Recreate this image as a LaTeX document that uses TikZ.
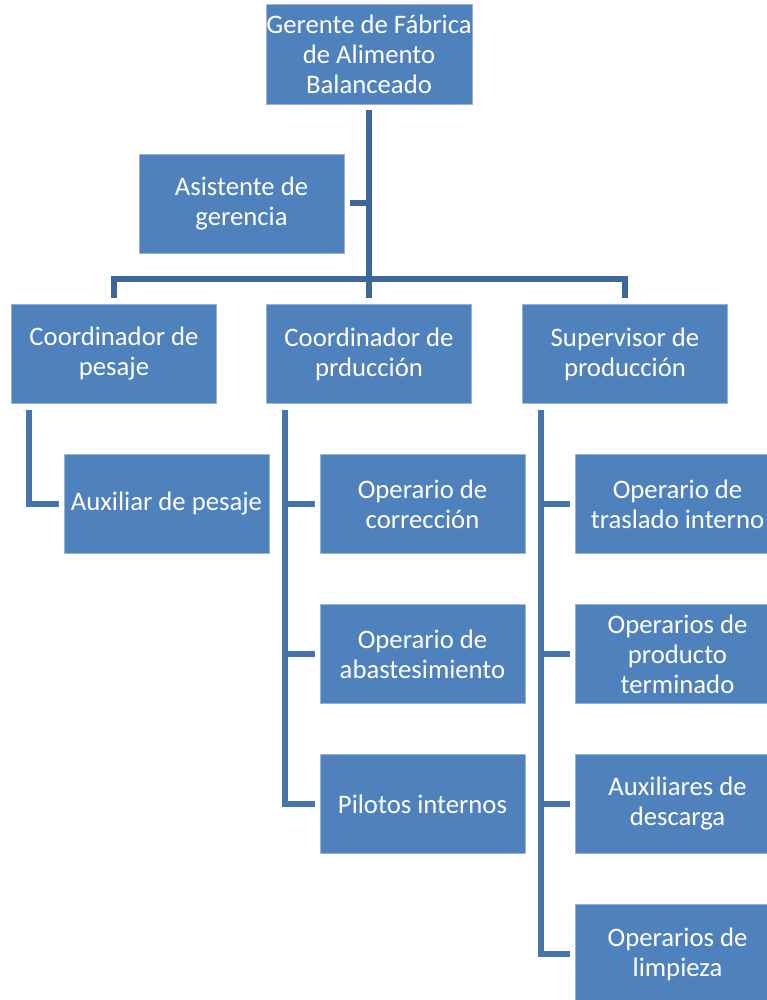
\documentclass[tikz,border=0pt]{standalone}
\usepackage{fontspec}
\setmainfont{Carlito}
\definecolor{boxblue}{HTML}{4F81BD}
\definecolor{linedark}{HTML}{3D6699}
\definecolor{linelight}{HTML}{4874AD}
\begin{document}
\begin{tikzpicture}[x=1pt,y=-1pt,
  box/.style={fill=boxblue, draw=boxblue!60!white, line width=0.8pt,
    minimum width=205pt, minimum height=99pt, text=white, align=center,
    font=\fontsize{26.7}{30}\selectfont, inner sep=0pt},
  topline/.style={draw=linedark, line width=6pt, line join=miter},
  subline/.style={draw=linelight, line width=6pt, line join=miter, shorten <=6pt, shorten >=5pt}]
\useasboundingbox (0,0) rectangle (767,1000);
\clip (0,0) rectangle (767,1000);
\node[box, minimum width=206pt, minimum height=100pt] (g) at (369,54) {Gerente de Fábrica\\de Alimento\\Balanceado};
\node[box] (as) at (241.5,203.5) {Asistente de\\gerencia};
\node[box] (cw) at (114,354) {Coordinador de\\pesaje};
\node[box] (cp) at (369,354) {Coordinador de\\prducción};
\node[box] (sp) at (625,354) {Supervisor de\\producción};
\node[box] (aux) at (166.5,504) {Auxiliar de pesaje};
\node[box] (o1) at (422.5,504) {Operario de\\corrección};
\node[box] (o2) at (422.5,654) {Operario de\\abastesimiento};
\node[box] (o3) at (422.5,804) {Pilotos internos};
\node[box] (s1) at (677.5,504) {Operario de\\traslado interno};
\node[box] (s2) at (677.5,654) {Operarios de\\producto\\terminado};
\node[box] (s3) at (677.5,804) {Auxiliares de\\descarga};
\node[box] (s4) at (677.5,954) {Operarios de\\limpieza};
% top level
\draw[topline, shorten <=6pt, shorten >=6pt] (g.south) -- (cp.north);
\draw[topline, shorten <=6pt] (as.east) -- (as.east -| g.south);
\draw[topline, shorten <=6pt, shorten >=6pt] (cw.north) -- ++(0,-25) -| (sp.north);
% children
\draw[subline] ([xshift=18pt]cw.south west) |- (aux.west);
\draw[subline] ([xshift=19pt]cp.south west) |- (o1.west);
\draw[subline] ([xshift=19pt]cp.south west) |- (o2.west);
\draw[subline] ([xshift=19pt]cp.south west) |- (o3.west);
\draw[subline] ([xshift=19pt]sp.south west) |- (s1.west);
\draw[subline] ([xshift=19pt]sp.south west) |- (s2.west);
\draw[subline] ([xshift=19pt]sp.south west) |- (s3.west);
\draw[subline] ([xshift=19pt]sp.south west) |- (s4.west);
\end{tikzpicture}
\end{document}
